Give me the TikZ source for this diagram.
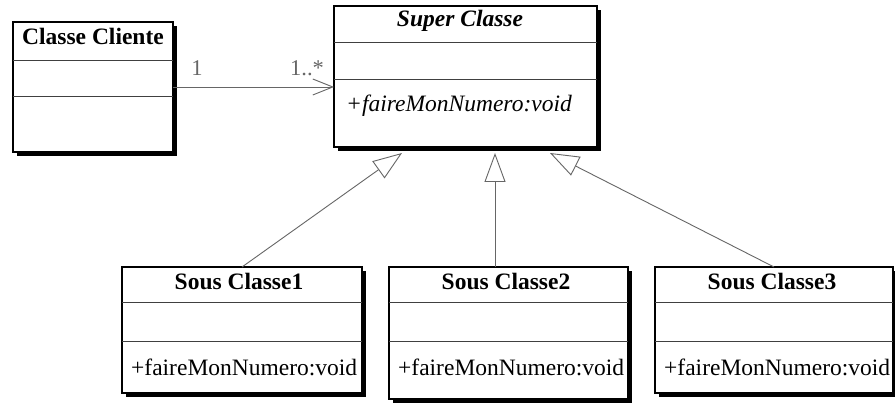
\documentclass[tikz,border=0pt]{standalone}
\usepackage{fontspec}
\setmainfont{Liberation Serif}
\usetikzlibrary{arrows.meta,shadows,calc}
\begin{document}
\begin{tikzpicture}[x=1pt,y=-1pt,
  classbox/.style={draw=black, line width=1.3pt, fill=white, inner sep=0pt, outer sep=0pt, anchor=north west,
    drop shadow={shadow xshift=4pt, shadow yshift=-4pt, fill=black, opacity=1}},
  divider/.style={draw=black!75, line width=1pt},
  title/.style={font=\fontsize{23.5}{27}\selectfont\bfseries, anchor=base, inner sep=0pt},
  method/.style={font=\fontsize{23.5}{27}\selectfont, anchor=base west, inner sep=0pt},
  conn/.style={draw=black!60, line width=0.9pt},
  gen/.style={conn, -{Triangle[open, length=29pt, width=21pt, fill=white]}},
  assoc/.style={conn, -{Straight Barb[length=20pt, width=16pt]}},
  mult/.style={font=\fontsize{22.5}{26}\selectfont, text=black!60, anchor=base, inner sep=0pt}
]
\useasboundingbox (0,0) rectangle (895,403);
\fill[white] (0,0) rectangle (895,403);

% Classe Cliente
\node[classbox, minimum width=160pt, minimum height=130pt] (cc) at (13,22) {};
\draw[divider] (13,61) -- (173,61);
\draw[divider] (13,97) -- (173,97);
\node[title] (cct) at (93,45) {Classe Cliente};

% Super Classe
\node[classbox, minimum width=263pt, minimum height=141pt] (sup) at (334,6) {};
\draw[divider] (334,43) -- (597,43);
\draw[divider] (334,80) -- (597,80);
\node[title, font=\fontsize{23.5}{27}\selectfont\bfseries\itshape] (supt) at (460,27) {Super Classe};
\node[method, font=\fontsize{23.5}{27}\selectfont\itshape] (supm) at (346,112) {+faireMonNumero:void};

% Sous Classe1
\node[classbox, minimum width=240pt, minimum height=126pt] (s1) at (122,267) {};
\draw[divider] (122,303) -- (362,303);
\draw[divider] (122,342) -- (362,342);
\node[title] (s1t) at (239,290) {Sous Classe1};
\node[method] (s1m) at (131,376) {+faireMonNumero:void};

% Sous Classe2
\node[classbox, minimum width=239pt, minimum height=132pt] (s2) at (389,267) {};
\draw[divider] (389,303) -- (628,303);
\draw[divider] (389,342) -- (628,342);
\node[title] (s2t) at (506,290) {Sous Classe2};
\node[method] (s2m) at (398,376) {+faireMonNumero:void};

% Sous Classe3
\node[classbox, minimum width=238pt, minimum height=126pt] (s3) at (655,267) {};
\draw[divider] (655,303) -- (893,303);
\draw[divider] (655,342) -- (893,342);
\node[title] (s3t) at (772,290) {Sous Classe3};
\node[method] (s3m) at (664,376) {+faireMonNumero:void};

% association
\draw[assoc] (cc.east) -- (cc.east -| sup.west);
\node[mult] (m1) at (197,76) {1};
\node[mult] (m2) at (307,76) {1..*};

% generalizations
\draw[gen] (s1.north) -- ([xshift=-63.5pt, yshift=-6pt]sup.south);
\draw[gen] ([xshift=-13.5pt]s2.north) -- ([xshift=29.5pt, yshift=-6pt]sup.south);
\draw[gen] (s3.north) -- ([xshift=84.5pt, yshift=-6pt]sup.south);
\end{tikzpicture}
\end{document}
